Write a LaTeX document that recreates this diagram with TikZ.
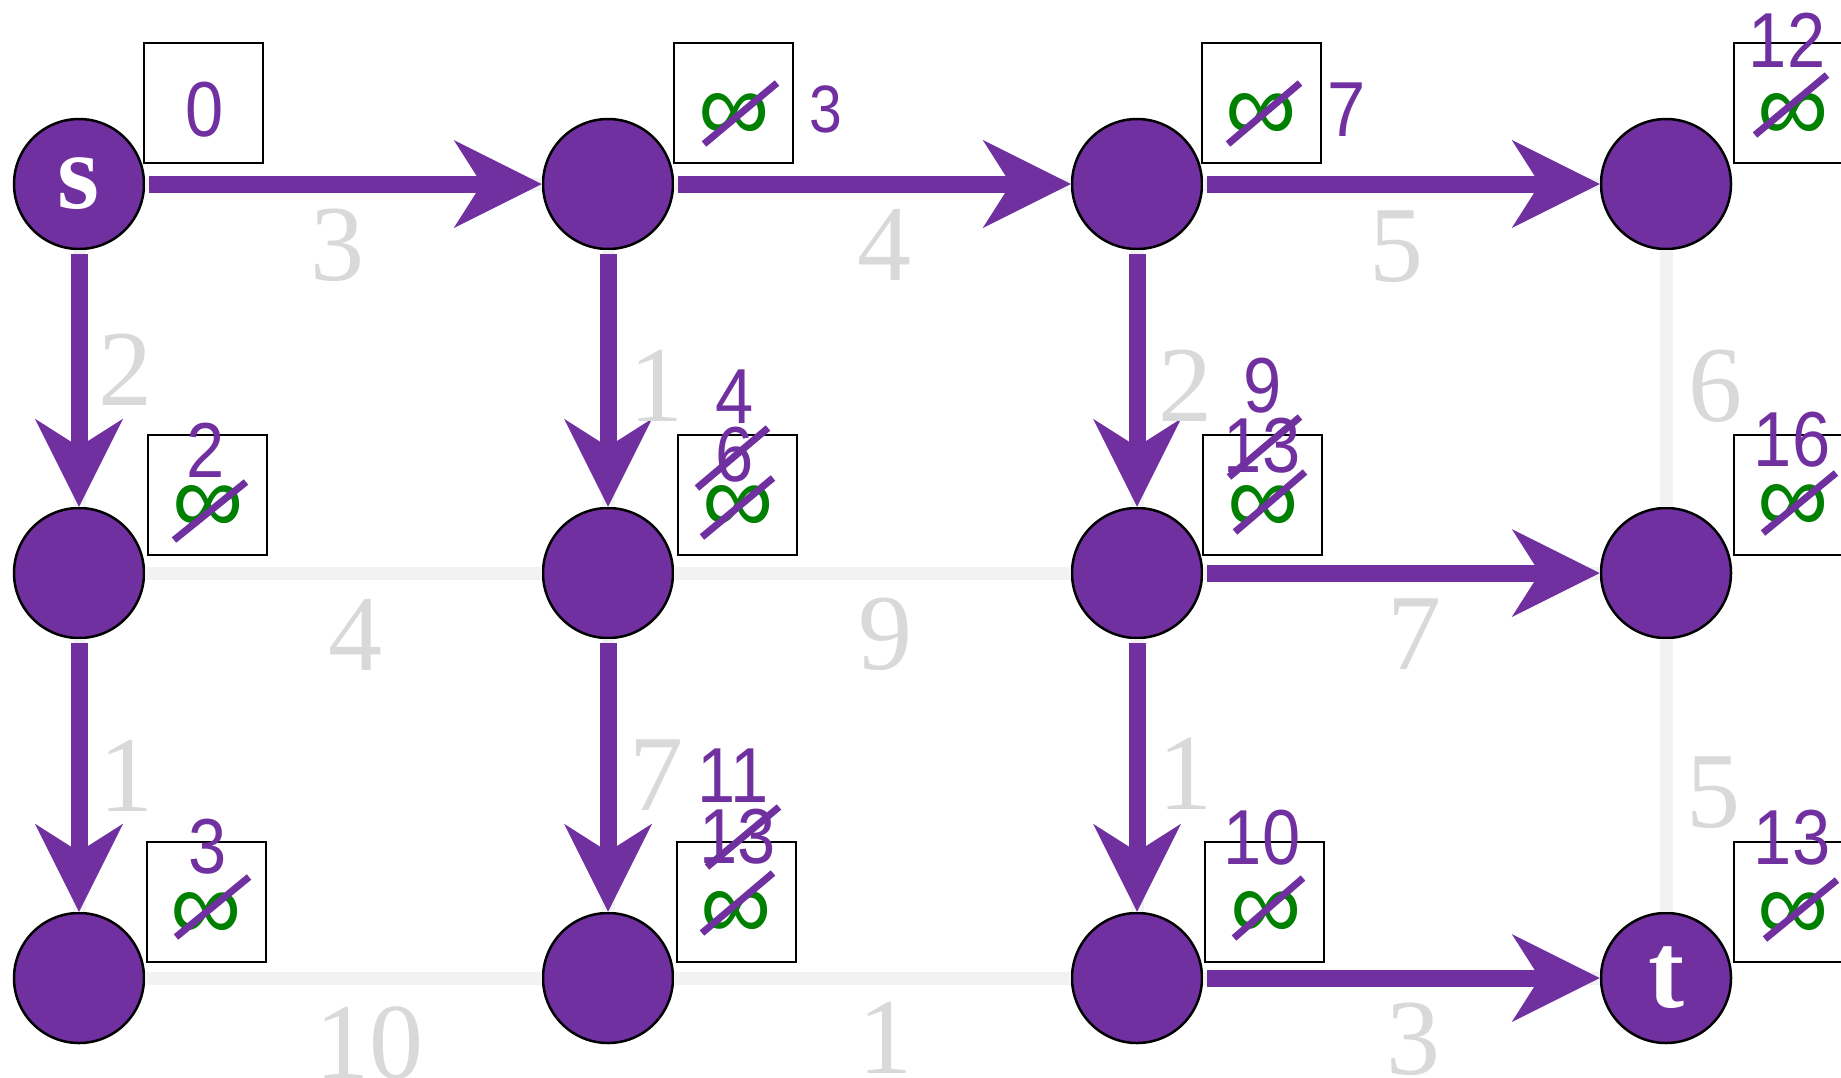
\documentclass[tikz,border=0pt]{standalone}
\usepackage{fontspec}
\setmainfont{Liberation Serif}
\newfontfamily\distfont[FakeStretch=0.88]{Liberation Sans}
\newfontfamily\inffont{Liberation Sans}
\usetikzlibrary{arrows.meta}
\definecolor{vpurple}{HTML}{7030A0}
\definecolor{vgreen}{HTML}{008000}
\definecolor{wgrey}{HTML}{D9D9D9}
\definecolor{egrey}{HTML}{F2F2F2}
\begin{document}
\begin{tikzpicture}[x=1pt,y=-1pt,
  vert/.style={circle, fill=vpurple, draw=black, line width=2.5pt, minimum size=130pt, inner sep=0pt, text=white, font=\fontsize{108}{108}\selectfont\bfseries},
  distbox/.style={draw=black, line width=2pt, minimum width=119pt, minimum height=120pt, inner sep=0pt},
  wlab/.style={text=wgrey, inner sep=0pt, font=\fontsize{108}{108}\selectfont},
  dlab/.style={text=vpurple, inner sep=0pt, font=\distfont\fontsize{78}{78}\selectfont},
  dlabs/.style={text=vpurple, inner sep=0pt, font=\distfont\fontsize{67}{67}\selectfont},
  inflab/.style={text=vgreen, inner sep=0pt, font=\inffont\fontsize{100}{100}\selectfont},
  strike/.style={draw=vpurple, line width=7pt},
  base/.style={draw=egrey, line width=13pt},
  tree/.style={draw=vpurple, line width=17pt, shorten <=4pt, -{Stealth[length=88pt,width=88pt,inset=28pt,line width=0pt]}},
]
\useasboundingbox (0,0) rectangle (1841,1077);
\clip (0,0) rectangle (1841,1077);
\fill[white] (0,0) rectangle (1841,1077);

% vertices
\node[vert] (n00) at (79,184) {\raisebox{-14pt}{s}};
\node[vert] (n10) at (608,184) {};
\node[vert] (n20) at (1137,184) {};
\node[vert] (n30) at (1666,184) {};
\node[vert] (n01) at (79,573) {};
\node[vert] (n11) at (608,573) {};
\node[vert] (n21) at (1137,573) {};
\node[vert] (n31) at (1666,573) {};
\node[vert] (n02) at (79,978) {};
\node[vert] (n12) at (608,978) {};
\node[vert] (n22) at (1137,978) {};
\node[vert] (n32) at (1666,978) {t};

% all grid edges (light)
\foreach \a/\b in {n00/n10,n10/n20,n20/n30,n01/n11,n11/n21,n21/n31,n02/n12,n12/n22,n22/n32,
                   n00/n01,n01/n02,n10/n11,n11/n12,n20/n21,n21/n22,n30/n31,n31/n32}
  \draw[base] (\a) -- (\b);

% shortest path tree edges
\foreach \a/\b in {n00/n10,n10/n20,n20/n30,n00/n01,n01/n02,n10/n11,n11/n12,n20/n21,n21/n22,n21/n31,n22/n32}
  \draw[tree] (\a) -- (\b);

% weights
\node[wlab] (w1) at (337,245) {3};
\node[wlab] (w2) at (884,245) {4};
\node[wlab] (w3) at (1396,247) {5};
\node[wlab] (w4) at (355,635) {4};
\node[wlab] (w5) at (885,634) {9};
\node[wlab] (w6) at (1414,634) {7};
\node[wlab] (w7) at (369,1043) {10};
\node[wlab] (w8) at (885,1038) {1};
\node[wlab] (w9) at (1413,1039) {3};
\node[wlab] (w10) at (125,370) {2};
\node[wlab] (w11) at (126,776) {1};
\node[wlab] (w12) at (656,386) {1};
\node[wlab] (w13) at (656,775) {7};
\node[wlab] (w14) at (1185,386) {2};
\node[wlab] (w15) at (1185,774) {1};
\node[wlab] (w16) at (1715,386) {6};
\node[wlab] (w17) at (1713,793) {5};

% distance boxes
\node[distbox] (b00) at (203.5,102.5) {};
\node[distbox] (b10) at (733.5,102.5) {};
\node[distbox] (b20) at (1261.5,102.5) {};
\node[distbox] (b30) at (1793.5,102.5) {};
\node[distbox] (b01) at (207.5,495) {};
\node[distbox] (b11) at (737.5,495) {};
\node[distbox] (b21) at (1262.5,495) {};
\node[distbox] (b31) at (1793.5,495) {};
\node[distbox] (b02) at (206.5,902) {};
\node[distbox] (b12) at (736.5,902) {};
\node[distbox] (b22) at (1264.5,902) {};
\node[distbox] (b32) at (1793.5,902) {};

% infinity marks
\node[inflab] (i10) at (734,117) {∞};
\node[inflab] (i20) at (1261,117) {∞};
\node[inflab] (i30) at (1793,117) {∞};
\node[inflab] (i01) at (208,509) {∞};
\node[inflab] (i11) at (738,509) {∞};
\node[inflab] (i21) at (1263,509) {∞};
\node[inflab] (i31) at (1793,508) {∞};
\node[inflab] (i02) at (206,916) {∞};
\node[inflab] (i12) at (736,915) {∞};
\node[inflab] (i22) at (1266,915) {∞};
\node[inflab] (i32) at (1793,916) {∞};

% distance numbers
\node[dlab] (d00) at (205,110) {0};
\node[dlabs] (d10) at (826,109) {3};
\node[dlab] (d20) at (1347,110) {7};
\node[dlab] (d30) at (1787,40) {12};
\node[dlab] (d01) at (206,450) {2};
\node[dlab] (d11a) at (735,397) {4};
\node[dlab] (d11b) at (735,455) {6};
\node[dlab] (d21a) at (1263,386) {9};
\node[dlab] (d21b) at (1262,446) {13};
\node[dlab] (d31) at (1792,440) {16};
\node[dlab] (d02) at (208,847) {3};
\node[dlab] (d12a) at (733,776) {11};
\node[dlab] (d12b) at (738,837) {13};
\node[dlab] (d22) at (1262,838) {10};
\node[dlab] (d32) at (1792,838) {13};

% strike-through marks
\draw[strike] (704,144) -- (777,83);
\draw[strike] (1228,144) -- (1300,83);
\draw[strike] (1755,135) -- (1827,75);
\draw[strike] (174,540) -- (246,482);
\draw[strike] (697,488) -- (768,428);
\draw[strike] (702,537) -- (773,478);
\draw[strike] (1229,477) -- (1300,417);
\draw[strike] (1235,532) -- (1305,472);
\draw[strike] (1763,533) -- (1836,473);
\draw[strike] (176,937) -- (249,877);
\draw[strike] (707,867) -- (779,807);
\draw[strike] (702,933) -- (773,873);
\draw[strike] (1234,938) -- (1303,878);
\draw[strike] (1765,939) -- (1837,880);
\end{tikzpicture}
\end{document}
